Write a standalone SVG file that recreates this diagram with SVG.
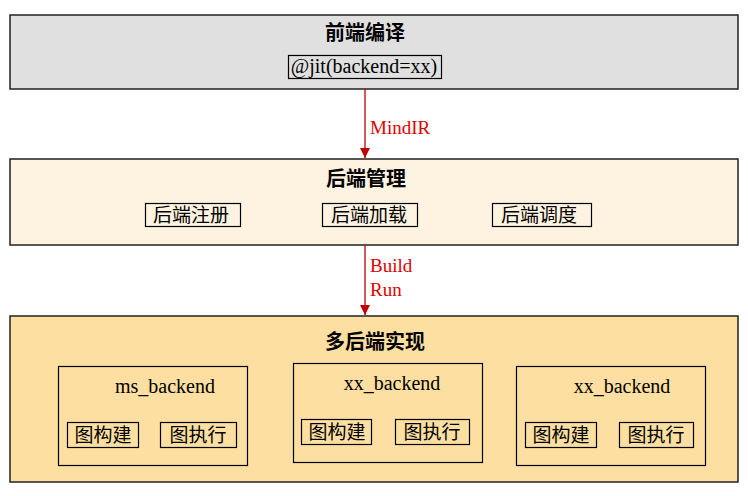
<svg xmlns="http://www.w3.org/2000/svg" width="748" height="496" viewBox="0 0 748 496">
<defs>
<marker id="ah" markerWidth="10" markerHeight="10" refX="10" refY="5" orient="auto" markerUnits="userSpaceOnUse" viewBox="0 0 10 10">
<path d="M0,0 L10,5 L0,10 Z" fill="#c00000"/>
</marker>
<style>
.outer{stroke:#222;stroke-width:1.5}
.box{fill:none;stroke:#000;stroke-width:1.2}
.title{font-family:"Noto Sans CJK SC",sans-serif;font-weight:bold;font-size:20px;fill:#000;text-anchor:middle}
.cn{font-family:"Noto Sans CJK SC",sans-serif;font-size:19px;fill:#000;text-anchor:middle}
.en{font-family:"Liberation Serif",serif;font-size:20px;fill:#000;text-anchor:middle}
.lbl{font-family:"Liberation Serif",serif;font-size:19px;fill:#e00000}
.conn{stroke:#c00000;stroke-width:1.3;fill:none}
</style>
</defs>
<rect width="748" height="496" fill="#fff"/>
<g id="frontend">
<rect class="outer" x="10" y="15" width="728" height="74" fill="#e0e0e0"/>
<text class="title" x="365" y="40">前端编译</text>
<rect class="box" x="288.5" y="55.5" width="153" height="23"/>
<text class="en" x="364" y="73">@jit(backend=xx)</text>
</g>
<g id="backend-mgmt">
<rect class="outer" x="10" y="159" width="728" height="86" fill="#fef3e0"/>
<text class="title" x="366" y="186">后端管理</text>
<rect class="box" x="145.5" y="203.5" width="95" height="23"/>
<text class="cn" x="191" y="222">后端注册</text>
<rect class="box" x="322.5" y="203.5" width="95" height="23"/>
<text class="cn" x="369" y="222">后端加载</text>
<rect class="box" x="492.5" y="203.5" width="99" height="23"/>
<text class="cn" x="539" y="222">后端调度</text>
</g>
<g id="multi-backend">
<rect class="outer" x="10" y="316" width="728" height="166" fill="#fddfa2"/>
<text class="title" x="375" y="349">多后端实现</text>
</g>
<g id="ms-backend">
<rect class="box" x="58.5" y="366.5" width="189" height="99"/>
<text class="en" x="165" y="393">ms_backend</text>
<rect class="box" x="67.5" y="422.5" width="71" height="25"/>
<text class="cn" x="103" y="442">图构建</text>
<rect class="box" x="160.5" y="422.5" width="76" height="25"/>
<text class="cn" x="198" y="442">图执行</text>
</g>
<g id="xx-backend-1">
<rect class="box" x="293.5" y="363.5" width="189" height="99"/>
<text class="en" x="392" y="390">xx_backend</text>
<rect class="box" x="301.5" y="419.5" width="70" height="25"/>
<text class="cn" x="337" y="439">图构建</text>
<rect class="box" x="395.5" y="419.5" width="74" height="25"/>
<text class="cn" x="432" y="439">图执行</text>
</g>
<g id="xx-backend-2">
<rect class="box" x="516.5" y="366.5" width="189" height="99"/>
<text class="en" x="622" y="393">xx_backend</text>
<rect class="box" x="525.5" y="422.5" width="71" height="25"/>
<text class="cn" x="561" y="442">图构建</text>
<rect class="box" x="619.5" y="422.5" width="74" height="25"/>
<text class="cn" x="656" y="442">图执行</text>
</g>
<g id="connectors">
<line class="conn" x1="365" y1="89" x2="365" y2="158" marker-end="url(#ah)"/>
<text class="lbl" x="370" y="134">MindIR</text>
<line class="conn" x1="365" y1="245" x2="365" y2="315" marker-end="url(#ah)"/>
<text class="lbl" x="370" y="272">Build</text>
<text class="lbl" x="370" y="296">Run</text>
</g>
</svg>
